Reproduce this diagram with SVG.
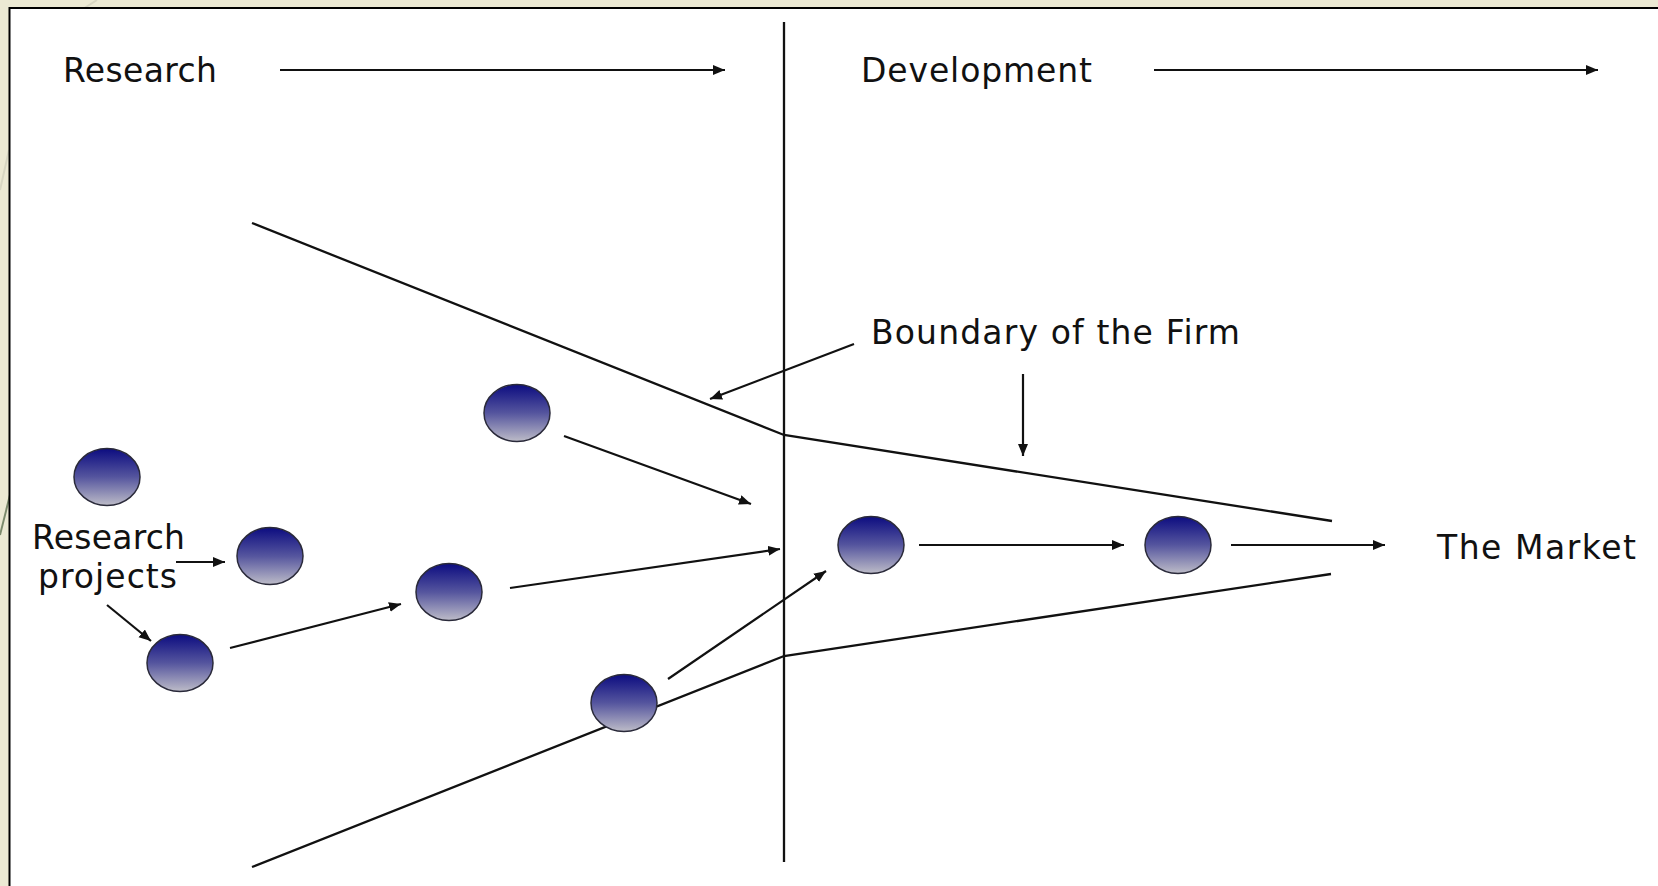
<svg xmlns="http://www.w3.org/2000/svg" width="1658" height="886" viewBox="0 0 1658 886">
<style>
.bg{fill:#ECE9D3}
.deco{stroke:#7C8A6C;stroke-width:2;fill:none}
.decoF{stroke:#D8D6C2;stroke-width:2;fill:none}
.panel{fill:#ffffff;stroke:#000000;stroke-width:2}
.ln{stroke:#111111;stroke-width:2.3;fill:none}
.arr{stroke:#111111;stroke-width:2.2;fill:none;marker-end:url(#ah)}
.node{fill:url(#g);stroke:#2a2a3a;stroke-width:1.5}
.lbl{font-family:"DejaVu Sans","Liberation Sans",sans-serif;font-size:33px;fill:#111111}
</style>
<defs>
<linearGradient id="g" x1="0" y1="0" x2="0" y2="1">
<stop offset="0" stop-color="#0C0C80"/>
<stop offset="0.5" stop-color="#55559E"/>
<stop offset="1" stop-color="#BDBCC8"/>
</linearGradient>
<marker id="ah" markerUnits="userSpaceOnUse" markerWidth="14" markerHeight="12" refX="12" refY="5" orient="auto">
<path d="M0,0 L12,5 L0,10 z" fill="#111111"/>
</marker>
</defs>
<rect class="bg" x="0" y="0" width="1658" height="886"/>
<line class="decoF" x1="97" y1="0" x2="83" y2="9"/>
<line class="decoF" x1="9" y1="150" x2="0" y2="190"/>
<line class="deco" x1="10" y1="495" x2="0" y2="535"/>
<rect class="panel" x="9.5" y="8" width="1700" height="900"/>

<g id="labels">
<g id="label-research"><text class="lbl" x="63" y="82" textLength="154" lengthAdjust="spacing">Research</text></g>
<g id="label-development"><text class="lbl" x="861" y="82" textLength="231" lengthAdjust="spacing">Development</text></g>
<g id="label-boundary"><text class="lbl" x="871" y="344" textLength="369" lengthAdjust="spacing">Boundary of the Firm</text></g>
<g id="label-market"><text class="lbl" x="1437" y="559" textLength="199" lengthAdjust="spacing">The Market</text></g>
<g id="label-projects"><text class="lbl" x="32" y="549" textLength="153" lengthAdjust="spacing">Research</text><text class="lbl" x="38" y="588" textLength="139" lengthAdjust="spacing">projects</text></g>
</g>

<g id="divider"><line class="ln" x1="784" y1="22" x2="784" y2="862"/></g>
<g id="boundary">
<polyline class="ln" points="252,223 784,435 1332,521"/>
<polyline class="ln" points="252,867 784,656 1331,574"/>
</g>

<g id="connectors">
<line class="arr" x1="280" y1="70" x2="725" y2="70"/>
<line class="arr" x1="1154" y1="70" x2="1598" y2="70"/>
<line class="arr" x1="854" y1="344" x2="710" y2="399"/>
<line class="arr" x1="1023" y1="374" x2="1023" y2="456"/>
<line class="arr" x1="564" y1="436" x2="751" y2="504"/>
<line class="arr" x1="510" y1="588" x2="780" y2="549"/>
<line class="arr" x1="230" y1="648" x2="401" y2="604"/>
<line class="arr" x1="668" y1="679" x2="826" y2="571"/>
<line class="arr" x1="919" y1="545" x2="1124" y2="545"/>
<line class="arr" x1="1231" y1="545" x2="1385" y2="545"/>
<line class="arr" x1="176" y1="562" x2="225" y2="562"/>
<line class="arr" x1="107" y1="605" x2="151" y2="641"/>
</g>

<g id="node-a"><ellipse class="node" cx="517" cy="413" rx="33" ry="28.5"/></g>
<g id="node-b"><ellipse class="node" cx="107" cy="477" rx="33" ry="28.5"/></g>
<g id="node-c"><ellipse class="node" cx="270" cy="556" rx="33" ry="28.5"/></g>
<g id="node-d"><ellipse class="node" cx="449" cy="592" rx="33" ry="28.5"/></g>
<g id="node-e"><ellipse class="node" cx="180" cy="663" rx="33" ry="28.5"/></g>
<g id="node-f"><ellipse class="node" cx="624" cy="703" rx="33" ry="28.5"/></g>
<g id="node-g"><ellipse class="node" cx="871" cy="545" rx="33" ry="28.5"/></g>
<g id="node-h"><ellipse class="node" cx="1178" cy="545" rx="33" ry="28.5"/></g>
</svg>
